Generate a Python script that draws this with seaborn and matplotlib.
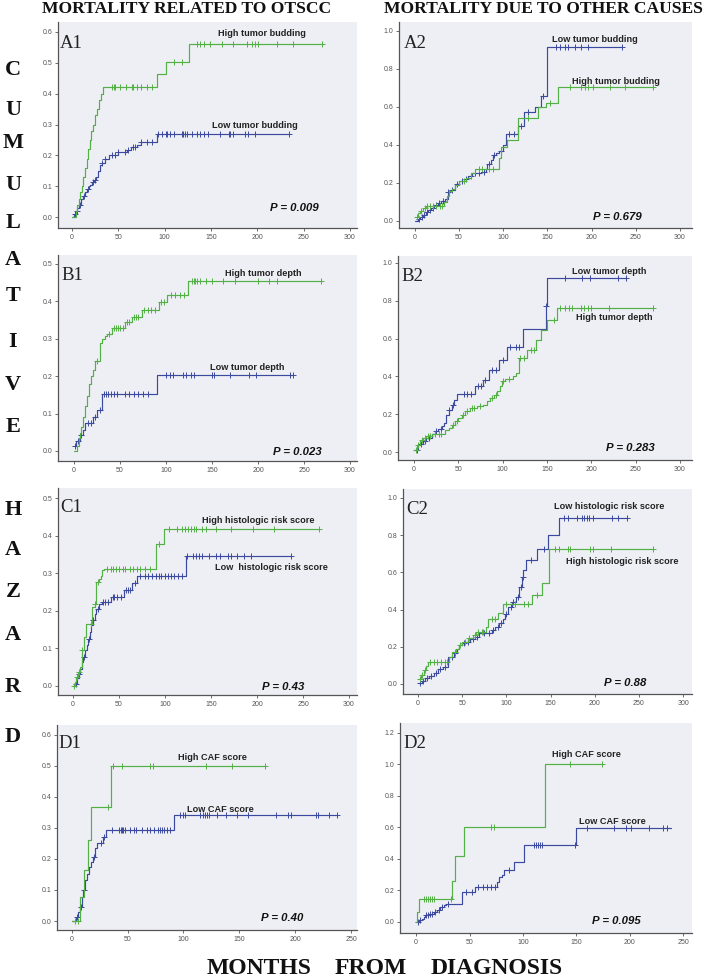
import numpy as np
import pandas as pd
import matplotlib
matplotlib.use("Agg")
import matplotlib.pyplot as plt
import seaborn as sns

# ---------------- DATA ----------------
# Panel A1 : mortality related to OTSCC, tumor budding
A1_HIGH_T = [0, 4, 6, 8, 9, 11, 12, 14, 16, 17, 19, 21, 23, 25, 27, 29, 31, 33, 92, 102, 126, 270]
A1_HIGH_H = [0, 0.02, 0.04, 0.06, 0.08, 0.10, 0.13, 0.16, 0.19, 0.22, 0.25, 0.28, 0.30, 0.33, 0.35, 0.38, 0.40, 0.42, 0.463, 0.503, 0.562, 0.562]
A1_HIGH_C = [43, 45, 47, 52, 58, 65, 66, 70, 74, 81, 86, 110, 119, 135, 138, 142, 149, 162, 174, 189, 194, 198, 201, 221, 239, 270]
A1_LOW_T = [0, 2, 4, 6, 8, 10, 12, 14, 16, 18, 20, 22, 24, 26, 28, 30, 32, 36, 40, 50, 59, 64, 70, 75, 92, 234]
A1_LOW_H = [0, 0.01, 0.02, 0.03, 0.04, 0.06, 0.07, 0.08, 0.09, 0.10, 0.105, 0.115, 0.12, 0.13, 0.15, 0.17, 0.175, 0.19, 0.20, 0.21, 0.216, 0.227, 0.235, 0.245, 0.268, 0.268]
A1_LOW_C = [3, 5, 9, 13, 17, 23, 25, 32, 36, 43, 47, 50, 57, 61, 66, 68, 75, 81, 86, 93, 97, 101, 103, 106, 110,
            119, 120, 122, 124, 129, 135, 138, 143, 147, 160, 169, 171, 174, 187, 190, 198, 234]

# Panel A2 : mortality due to other causes, tumor budding
A2_LOW_T = [0, 3, 6, 9, 12, 15, 18, 22, 26, 30, 34, 37, 40, 45, 50, 55, 60, 65, 70, 75, 80, 82, 86, 88, 92, 95, 100,
            103, 117, 123, 136, 143, 149, 150, 234]
A2_LOW_H = [0, 0.01, 0.02, 0.03, 0.045, 0.06, 0.07, 0.085, 0.095, 0.105, 0.115, 0.15, 0.165, 0.195, 0.21, 0.22, 0.235,
            0.25, 0.255, 0.26, 0.275, 0.30, 0.32, 0.345, 0.36, 0.37, 0.40, 0.46, 0.50, 0.575, 0.598, 0.655, 0.73, 0.914, 0.914]
A2_LOW_C = [5, 8, 10, 14, 17, 20, 24, 27, 32, 38, 42, 48, 53, 58, 63, 68, 73, 78, 84, 90, 97, 107, 112, 120, 128, 145,
            160, 164, 170, 173, 181, 188, 196, 234]
A2_HIGH_T = [0, 3, 6, 9, 12, 33, 36, 39, 42, 45, 50, 58, 64, 68, 95, 98, 104, 117, 139, 148, 162, 270]
A2_HIGH_H = [0.02, 0.04, 0.055, 0.07, 0.08, 0.10, 0.13, 0.16, 0.17, 0.19, 0.21, 0.225, 0.25, 0.275, 0.33, 0.39, 0.425,
             0.54, 0.60, 0.62, 0.703, 0.703]
A2_HIGH_C = [2, 7, 11, 14, 17, 20, 24, 28, 31, 55, 72, 76, 84, 88, 128, 153, 175, 188, 192, 196, 202, 221, 238, 270]

# Panel B1 : mortality related to OTSCC, tumor depth
B1_HIGH_T = [0, 3, 5, 6.5, 8, 10, 12, 14.5, 16.5, 19, 21, 23, 28, 30, 34, 36, 41, 55, 63, 74, 92, 101, 124, 269]
B1_HIGH_H = [0, 0.012, 0.034, 0.047, 0.065, 0.092, 0.119, 0.146, 0.18, 0.20, 0.217, 0.24, 0.288, 0.30, 0.308, 0.313,
             0.33, 0.346, 0.358, 0.378, 0.397, 0.418, 0.454, 0.454]
B1_HIGH_C = [25, 38, 44, 46, 48, 50, 53, 58, 60, 65, 67, 70, 76, 80, 84, 88, 95, 98, 105, 110, 115, 120, 128, 130, 132,
             134, 137, 143, 150, 162, 175, 200, 212, 221, 268]
B1_LOW_T = [0, 2, 6.5, 9.5, 12, 21, 25, 30, 90, 238]
B1_LOW_H = [0.012, 0.027, 0.043, 0.056, 0.074, 0.09, 0.11, 0.152, 0.204, 0.204]
B1_LOW_C = [1, 4, 8, 15, 18, 23, 28, 33, 35, 37, 40, 43, 47, 55, 60, 65, 70, 75, 80, 100, 104, 108, 118, 122, 127, 130,
            150, 152, 170, 190, 198, 235, 238]

# Panel B2 : mortality due to other causes, tumor depth
B2_LOW_T = [0, 5, 10, 14, 20, 24, 27, 32, 34, 36, 39.5, 42.5, 45.5, 48, 69, 78, 85, 96, 105, 123, 149, 150.5, 239]
B2_LOW_H = [0.012, 0.04, 0.056, 0.074, 0.097, 0.11, 0.122, 0.136, 0.153, 0.198, 0.224, 0.25, 0.277, 0.309, 0.347, 0.383,
            0.432, 0.489, 0.556, 0.651, 0.771, 0.92, 0.92]
B2_LOW_C = [3, 8, 12, 17, 25, 30, 40, 44, 56, 60, 64, 72, 76, 80, 88, 92, 100, 108, 115, 118, 149, 170, 190, 199, 230, 239]
B2_HIGH_T = [0, 3, 7, 10.5, 14, 20, 35, 39.5, 42.5, 46, 50, 54, 57.5, 63, 71, 78, 82, 86, 90, 94, 97, 99, 103, 112, 115,
             118, 127, 138, 143, 149.5, 161, 270]
B2_HIGH_H = [0.012, 0.039, 0.062, 0.074, 0.083, 0.097, 0.118, 0.127, 0.145, 0.162, 0.18, 0.198, 0.215, 0.233, 0.242,
             0.25, 0.268, 0.286, 0.303, 0.321, 0.347, 0.374, 0.386, 0.40, 0.418, 0.497, 0.538, 0.594, 0.647, 0.70,
             0.762, 0.762]
B2_HIGH_C = [2, 5, 9, 12, 16, 18, 24, 28, 31, 44, 48, 55, 60, 66, 68, 75, 88, 92, 100, 107, 120, 124, 132, 135, 158, 165,
             170, 175, 178, 188, 192, 196, 200, 220, 270]

# Panel C1 : mortality related to OTSCC, histologic risk score
C1_HIGH_T = [0, 2, 3.6, 5.8, 8, 9.4, 12, 14.5, 21, 23.5, 25.4, 28.3, 30, 32, 34, 90, 99, 267]
C1_HIGH_H = [0, 0.011, 0.024, 0.037, 0.05, 0.097, 0.13, 0.166, 0.21, 0.217, 0.277, 0.285, 0.294, 0.308, 0.312, 0.377,
             0.417, 0.417]
C1_HIGH_C = [1, 4, 6, 10, 20, 24, 27, 37, 41, 43, 47, 50, 54, 57, 62, 65, 70, 73, 78, 84, 94, 104, 113, 118, 122, 125,
             128, 131, 134, 140, 145, 155, 172, 196, 218, 267]
C1_LOW_T = [0, 2, 4.7, 6.5, 8, 9.4, 11, 13, 15, 16.7, 18, 19.6, 21.7, 24, 25.4, 28.3, 31, 41, 55.4, 64.5, 70, 122.5, 237]
C1_LOW_H = [0, 0.006, 0.02, 0.033, 0.046, 0.064, 0.077, 0.095, 0.108, 0.126, 0.144, 0.161, 0.175, 0.192, 0.206, 0.217,
            0.223, 0.238, 0.256, 0.274, 0.294, 0.346, 0.346]
C1_LOW_C = [3, 7, 12, 17, 22, 27, 33, 35, 38, 43, 45, 48, 52, 58, 60, 62, 67, 73, 78, 82, 86, 90, 93, 96, 100, 103, 106,
            110, 114, 119, 124, 130, 134, 137, 140, 148, 155, 160, 168, 172, 178, 186, 193, 237]

# Panel C2 : mortality due to other causes, histologic risk score
C2_LOW_T = [0, 4.5, 8.3, 12.8, 17.7, 22.6, 28, 34, 40.3, 44, 46, 49.7, 53.4, 59, 64, 69.3, 83.6, 87.3, 91.8, 96.7, 98.6,
            101.6, 106, 110.6, 114.8, 117.4, 119.3, 122, 135, 147, 159, 236]
C2_LOW_H = [0.007, 0.018, 0.03, 0.043, 0.057, 0.079, 0.093, 0.147, 0.165, 0.19, 0.209, 0.222, 0.227, 0.24, 0.254, 0.272,
            0.29, 0.308, 0.326, 0.347, 0.376, 0.415, 0.442, 0.469, 0.522, 0.576, 0.612, 0.665, 0.728, 0.80, 0.894, 0.894]
C2_LOW_C = [2, 6, 10, 15, 20, 25, 30, 38, 42, 52, 57, 62, 67, 75, 80, 85, 90, 94, 100, 105, 108, 113, 117, 119, 128, 143,
            165, 170, 180, 185, 188, 191, 194, 198, 220, 226, 236]
C2_HIGH_T = [0, 3.8, 6.4, 9, 11.3, 34.6, 39, 43.3, 46.7, 49.7, 56.5, 61.7, 65.5, 76.8, 79, 90.3, 96.7, 128.7, 140.8,
             148.7, 266]
C2_HIGH_H = [0.025, 0.048, 0.075, 0.097, 0.12, 0.147, 0.174, 0.19, 0.209, 0.227, 0.245, 0.263, 0.281, 0.308, 0.347,
             0.383, 0.429, 0.478, 0.544, 0.728, 0.728]
C2_HIGH_C = [2, 5, 8, 14, 18, 22, 26, 30, 33, 42, 48, 53, 58, 64, 68, 72, 74, 84, 87, 100, 110, 120, 125, 135, 155, 160,
             170, 172, 195, 198, 218, 266]

# Panel D1 : mortality related to OTSCC, CAF score
D1_HIGH_T = [0, 7.4, 11, 14.8, 17.5, 34.9, 173]
D1_HIGH_H = [0, 0.078, 0.164, 0.261, 0.369, 0.5, 0.5]
D1_HIGH_C = [3, 6, 33, 37, 45, 70, 73, 120, 143, 173]
D1_LOW_T = [0, 3.8, 5.9, 7.4, 9.2, 10.4, 11.8, 13.9, 15.7, 17.8, 19.2, 21.3, 22.8, 28, 30.5, 91.7, 237]
D1_LOW_H = [0, 0.013, 0.029, 0.045, 0.078, 0.099, 0.131, 0.153, 0.175, 0.191, 0.207, 0.234, 0.25, 0.272, 0.295, 0.342, 0.342]
D1_LOW_C = [5, 8, 11, 20, 26, 29, 36, 42, 44, 45, 46, 48, 52, 56, 58, 63, 67, 70, 74, 77, 79, 81, 83, 85, 88, 97, 100,
            101, 115, 117, 119, 121, 123, 130, 138, 148, 158, 183, 193, 196, 218, 220, 230, 237]

# Panel D2 : mortality due to other causes, CAF score
D2_HIGH_T = [0, 0.6, 2.5, 33.6, 36.8, 44.5, 121, 174]
D2_HIGH_H = [0, 0.063, 0.144, 0.26, 0.417, 0.6, 1.0, 1.0]
D2_HIGH_C = [7, 9, 11, 13, 15, 17, 33, 70, 73, 144, 174]
D2_LOW_T = [0, 3.1, 5.6, 7.2, 8.7, 12.5, 16.5, 19.6, 22.7, 25.9, 28, 43, 55.5, 75.7, 77.3, 80.4, 82.6, 91.3, 100.6,
            149.5, 238]
D2_LOW_H = [0, 0.01, 0.02, 0.03, 0.047, 0.053, 0.063, 0.074, 0.095, 0.106, 0.116, 0.19, 0.222, 0.254, 0.286, 0.296,
            0.328, 0.381, 0.487, 0.599, 0.599]
D2_LOW_C = [2, 4, 9, 11, 13, 15, 18, 21, 24, 30, 47, 52, 58, 63, 66, 70, 74, 87, 110, 112, 114, 116, 118, 149, 160, 185,
            196, 201, 218, 231, 235]

PANEL_NAMES = ["A1", "A2", "B1", "B2", "C1", "C2", "D1", "D2"]
P_VALUES = ["P = 0.009", "P = 0.679", "P = 0.023", "P = 0.283", "P = 0.43", "P = 0.88", "P = 0.40", "P = 0.095"]
GREEN_LABELS = ["High tumor budding", "High tumor budding", "High tumor depth", "High tumor depth",
                "High histologic risk score", "High histologic risk score", "High CAF score", "High CAF score"]
BLUE_LABELS = ["Low tumor budding", "Low tumor budding", "Low tumor depth", "Low tumor depth",
               "Low  histologic risk score", "Low histologic risk score", "Low CAF score", "Low CAF score"]
COL_TITLES = ["MORTALITY RELATED TO OTSCC", "MORTALITY DUE TO OTHER CAUSES"]
SIDE_LETTERS = list("CUMULATIVEHAZARD")
X_WORDS = ["MONTHS", "FROM", "DIAGNOSIS"]

# ---------------- STYLE / LAYOUT ----------------
sns.set_theme(style="white")
plt.rcParams['font.family'] = ['Liberation Sans', 'DejaVu Sans']

W, H = 711, 980
GREEN = "#52b045"
BLUE = "#3b4a9f"
BG = "#eeeff4"

fig = plt.figure(figsize=(W / 100, H / 100), dpi=100)
fig.patch.set_facecolor("white")

def fx(x):
    return x / W

def fy(y):
    return 1 - y / H

# axes boxes in pixels: left, top, right, bottom
BOXES = {
    "A1": (58, 22, 357, 228), "A2": (399, 22, 692, 228),
    "B1": (58, 255, 357, 461), "B2": (398, 256, 692, 460),
    "C1": (58, 488, 357, 695), "C2": (403, 489, 692, 694),
    "D1": (57, 725, 357, 930), "D2": (400, 723, 692, 933),
}
XLIMS = {"A1": (-15, 307.5), "A2": (-18, 313.6), "B1": (-17.4, 307.6), "B2": (-18, 313.5),
         "C1": (-16.3, 308.7), "C2": (-17, 310), "D1": (-13, 255), "D2": (-15, 258)}
YLIMS = {"A1": (-0.035, 0.632), "A2": (-0.037, 1.047), "B1": (-0.027, 0.524), "B2": (-0.042, 1.037),
         "C1": (-0.024, 0.527), "C2": (-0.054, 1.048), "D1": (-0.029, 0.632), "D2": (-0.07, 1.263)}
YTICKS = {"A1": np.arange(0, 0.61, 0.1), "A2": np.arange(0, 1.01, 0.2), "B1": np.arange(0, 0.51, 0.1),
          "B2": np.arange(0, 1.01, 0.2), "C1": np.arange(0, 0.51, 0.1), "C2": np.arange(0, 1.01, 0.2),
          "D1": np.arange(0, 0.61, 0.1), "D2": np.arange(0, 1.21, 0.2)}
XTICKS = {k: np.arange(0, 301, 50) for k in PANEL_NAMES}
XTICKS["D1"] = np.arange(0, 251, 50)
XTICKS["D2"] = np.arange(0, 251, 50)

# text positions in pixels
LABEL_POS = {"A1": (60, 43), "A2": (404, 43), "B1": (61, 275), "B2": (401, 276),
             "C1": (60, 507), "C2": (406, 510), "D1": (58, 743), "D2": (403, 743)}
GREEN_POS = {"A1": (262, 34), "A2": (616, 81), "B1": (263, 273), "B2": (614, 317),
             "C1": (258, 520), "C2": (622, 561), "D1": (212, 758), "D2": (586, 754)}
BLUE_POS = {"A1": (255, 125), "A2": (595, 40), "B1": (247, 367), "B2": (609, 272),
            "C1": (271, 568), "C2": (609, 506), "D1": (220, 809), "D2": (612, 821)}
P_POS = {"A1": (294, 208), "A2": (617, 217), "B1": (297, 452), "B2": (630, 448),
         "C1": (283, 687), "C2": (625, 683), "D1": (282, 918), "D2": (616, 921)}

SERIES = {
    "A1": ((A1_HIGH_T, A1_HIGH_H, A1_HIGH_C), (A1_LOW_T, A1_LOW_H, A1_LOW_C)),
    "A2": ((A2_HIGH_T, A2_HIGH_H, A2_HIGH_C), (A2_LOW_T, A2_LOW_H, A2_LOW_C)),
    "B1": ((B1_HIGH_T, B1_HIGH_H, B1_HIGH_C), (B1_LOW_T, B1_LOW_H, B1_LOW_C)),
    "B2": ((B2_HIGH_T, B2_HIGH_H, B2_HIGH_C), (B2_LOW_T, B2_LOW_H, B2_LOW_C)),
    "C1": ((C1_HIGH_T, C1_HIGH_H, C1_HIGH_C), (C1_LOW_T, C1_LOW_H, C1_LOW_C)),
    "C2": ((C2_HIGH_T, C2_HIGH_H, C2_HIGH_C), (C2_LOW_T, C2_LOW_H, C2_LOW_C)),
    "D1": ((D1_HIGH_T, D1_HIGH_H, D1_HIGH_C), (D1_LOW_T, D1_LOW_H, D1_LOW_C)),
    "D2": ((D2_HIGH_T, D2_HIGH_H, D2_HIGH_C), (D2_LOW_T, D2_LOW_H, D2_LOW_C)),
}


def step_value(T, Hv, c):
    T = np.asarray(T, float)
    Hv = np.asarray(Hv, float)
    idx = np.searchsorted(T, np.asarray(c, float), side="right") - 1
    idx = np.clip(idx, 0, len(Hv) - 1)
    return Hv[idx]


def draw_curve(ax, T, Hv, C, color, order):
    df = pd.DataFrame({"t": T, "h": Hv})
    sns.lineplot(data=df, x="t", y="h", drawstyle="steps-post", estimator=None, sort=False,
                 color=color, linewidth=0.85, ax=ax, zorder=2 + order)
    cdf = pd.DataFrame({"t": C, "h": step_value(T, Hv, C)})
    sns.scatterplot(data=cdf, x="t", y="h", marker="+", s=14, color=color, linewidth=0.7,
                    ax=ax, zorder=3 + order)


for i, name in enumerate(PANEL_NAMES):
    l, t, r, b = BOXES[name]
    ax = fig.add_axes([fx(l), fy(b), (r - l) / W, (b - t) / H])
    ax.set_facecolor(BG)
    (gT, gH, gC), (bT, bH, bC) = SERIES[name]
    draw_curve(ax, bT, bH, bC, BLUE, 0)
    draw_curve(ax, gT, gH, gC, GREEN, 1)
    ax.set_xlim(*XLIMS[name])
    ax.set_ylim(*YLIMS[name])
    ax.set_xticks(XTICKS[name])
    ax.set_xticklabels([str(int(v)) for v in XTICKS[name]])
    ax.set_yticks(YTICKS[name])
    ax.set_yticklabels([f"{v:.1f}" for v in YTICKS[name]])
    ax.set_xlabel("")
    ax.set_ylabel("")
    for s in ["top", "right"]:
        ax.spines[s].set_visible(False)
    for s in ["left", "bottom"]:
        ax.spines[s].set_color("#555555")
        ax.spines[s].set_linewidth(0.9)
    ax.tick_params(axis="both", which="both", direction="out", length=2.5, width=0.6,
                   labelsize=5, colors="#555555", pad=1.5, left=True, bottom=True)

    lx, ly = LABEL_POS[name]
    fig.text(fx(lx), fy(ly), name, family="Liberation Serif", fontsize=13.5, color="#222222",
             ha="left", va="center")
    gx, gy = GREEN_POS[name]
    fig.text(fx(gx), fy(gy), GREEN_LABELS[i], fontsize=6.6,
             fontweight="bold", color="#222222", ha="center", va="center")
    bx, by = BLUE_POS[name]
    fig.text(fx(bx), fy(by), BLUE_LABELS[i], fontsize=6.6,
             fontweight="bold", color="#222222", ha="center", va="center")
    px, py = P_POS[name]
    fig.text(fx(px), fy(py), P_VALUES[i], fontsize=8.2, fontweight="bold",
             fontstyle="italic", color="#111111", ha="center", va="center")

# column titles
fig.text(fx(187), fy(13), COL_TITLES[0], family="Liberation Serif", fontweight="bold",
         fontsize=12.6, ha="center", va="baseline", color="#111111")
fig.text(fx(543), fy(13), COL_TITLES[1], family="Liberation Serif", fontweight="bold",
         fontsize=12.6, ha="center", va="baseline", color="#111111")

# vertical side letters
SIDE_Y = [70, 110, 143, 185, 223, 260, 296, 342, 385, 427, 510, 550, 592, 635, 687, 737]
for ch, yy in zip(SIDE_LETTERS, SIDE_Y):
    fig.text(fx(13), fy(yy), ch, family="Liberation Serif", fontweight="bold", fontsize=16,
             ha="center", va="center", color="#111111")

# bottom axis title words
WORD_X = [259, 371, 497]
for wd, xx in zip(X_WORDS, WORD_X):
    fig.text(fx(xx), fy(979), wd, family="Liberation Serif", fontweight="bold", fontsize=17,
             ha="center", va="bottom", color="#111111")

fig.savefig("out.png", dpi=100, facecolor="white")
